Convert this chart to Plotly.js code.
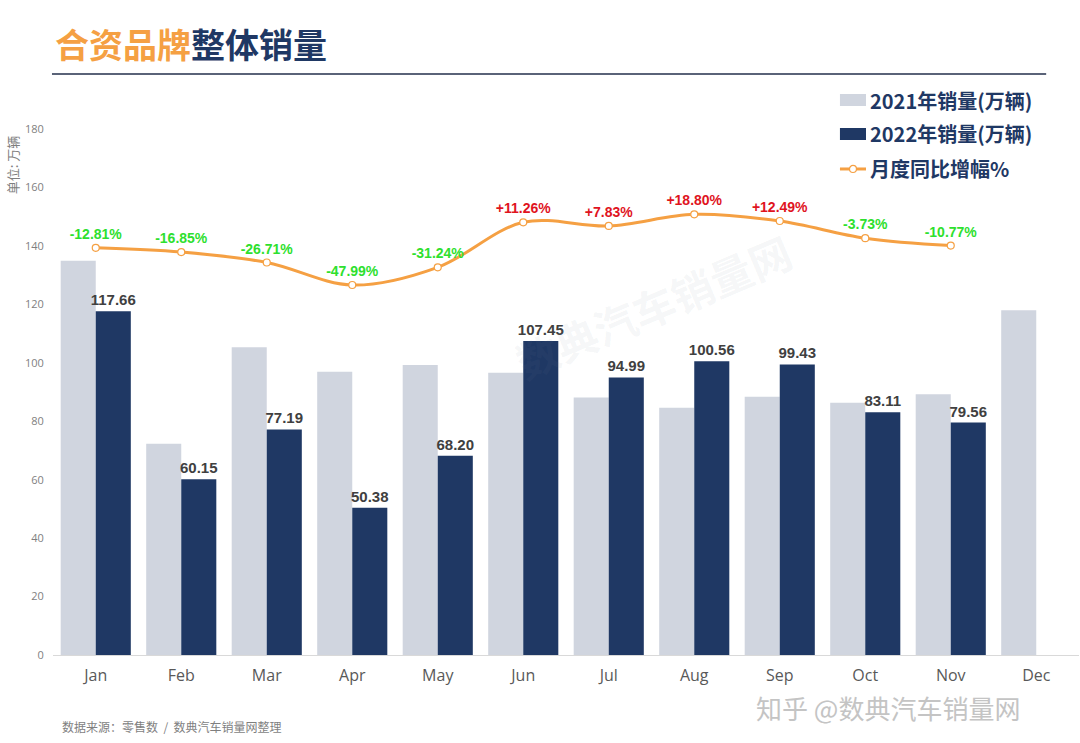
<!DOCTYPE html>
<html>
<head>
<meta charset="utf-8">
<script src="https://cdn.plot.ly/plotly-3.0.1.min.js"></script>
<style>html,body{margin:0;padding:0;background:#fff;}#chart{width:1080px;height:743px;}</style>
</head>
<body>
<div id="chart"></div>
<script>
const months = ["Jan","Feb","Mar","Apr","May","Jun","Jul","Aug","Sep","Oct","Nov","Dec"];
const sales2021 = [134.9, 72.3, 105.3, 96.9, 99.2, 96.6, 88.1, 84.6, 88.4, 86.3, 89.2, 118.0];
const sales2022 = [117.66, 60.15, 77.19, 50.38, 68.20, 107.45, 94.99, 100.56, 99.43, 83.11, 79.56];
const yoyPct = [-12.81, -16.85, -26.71, -47.99, -31.24, 11.26, 7.83, 18.80, 12.49, -3.73, -10.77];
const yoyLabels = ["-12.81%","-16.85%","-26.71%","-47.99%","-31.24%","+11.26%","+7.83%","+18.80%","+12.49%","-3.73%","-10.77%"];
const seriesNames = ["2021年销量(万辆)", "2022年销量(万辆)", "月度同比增幅%"];

const NAVY = "#1F3864";
const GREY = "#D0D5DF";
const ORANGE = "#F5A043";
const cjk = "Noto Sans CJK SC, sans-serif";

const traces = [
  {
    type: "bar", name: seriesNames[0], x: months, y: sales2021,
    marker: {color: GREY}, hoverinfo: "skip", showlegend: false
  },
  {
    type: "bar", name: seriesNames[1], x: months.slice(0, sales2022.length), y: sales2022,
    marker: {color: NAVY}, hoverinfo: "skip", showlegend: false,
    text: sales2022.map(v => v.toFixed(2)), textposition: "outside", constraintext: "none",
    textfont: {family: "Liberation Sans, Arial, sans-serif", size: 15, color: "#404040", weight: "bold"},
    cliponaxis: false
  },
  {
    type: "scatter", name: seriesNames[2], x: months.slice(0, yoyPct.length), y: yoyPct,
    yaxis: "y2", mode: "lines+markers+text", hoverinfo: "skip", showlegend: false,
    line: {color: ORANGE, width: 3, shape: "spline", smoothing: 1},
    marker: {size: 7, color: "#fff", line: {color: ORANGE, width: 1.2}},
    text: yoyLabels, textposition: "top center",
    textfont: {family: "Liberation Sans, Arial, sans-serif", size: 14, weight: "bold",
      color: yoyPct.map(v => v >= 0 ? "#E0141E" : "#2EE02E")},
    cliponaxis: false
  }
];

// custom legend (paper coordinates)
const legY = [1.0551, 0.9905, 0.924];
const legendShapes = [
  {type: "rect", xref: "paper", yref: "paper", x0: 0.767, x1: 0.7924, y0: legY[0] - 0.0114, y1: legY[0] + 0.0114,
   fillcolor: GREY, line: {width: 0}},
  {type: "rect", xref: "paper", yref: "paper", x0: 0.767, x1: 0.7924, y0: legY[1] - 0.0114, y1: legY[1] + 0.0114,
   fillcolor: NAVY, line: {width: 0}},
  {type: "line", xref: "paper", yref: "paper", x0: 0.767, x1: 0.7924, y0: legY[2], y1: legY[2],
   line: {color: ORANGE, width: 3}},
  {type: "circle", xref: "paper", yref: "paper", x0: 0.7763, x1: 0.7831, y0: legY[2] - 0.0067, y1: legY[2] + 0.0067,
   fillcolor: "#fff", line: {color: ORANGE, width: 1.2}}
];
const legendAnns = seriesNames.map((n, i) => ({
  text: "<b>" + n + "</b>", xref: "paper", yref: "paper", x: 0.7943, y: legY[i],
  xanchor: "left", yanchor: "middle", showarrow: false,
  font: {family: cjk, size: 20, color: NAVY}
}));

const layout = {
  width: 1080, height: 743,
  paper_bgcolor: "#fff", plot_bgcolor: "#fff",
  margin: {l: 53, r: 1, t: 129, b: 88},
  barmode: "group", bargap: 0.18, bargroupgap: 0,
  showlegend: false,
  title: {
    text: "<b><span style=\"color:#F5A043\">合资品牌</span><span style=\"color:#1F3864\">整体销量</span></b>",
    xref: "container", yref: "container", x: 0.051, xanchor: "left",
    y: 1 - 46/743, yanchor: "middle",
    font: {family: cjk, size: 34}
  },
  xaxis: {
    type: "category", range: [-0.5, 11.5], autorange: false,
    showgrid: false, zeroline: false, automargin: false,
    showline: true, linecolor: "#D9D9D9", linewidth: 1,
    ticks: "outside", ticklen: 6, tickcolor: "rgba(0,0,0,0)",
    tickfont: {family: "Open Sans, sans-serif", size: 16, color: "#595959"},
    fixedrange: true
  },
  yaxis: {
    range: [0, 180], dtick: 20, showgrid: false, zeroline: false, showline: false, automargin: false,
    ticks: "outside", ticklen: 6, tickcolor: "rgba(0,0,0,0)",
    tickfont: {family: "Open Sans, sans-serif", size: 11, color: "#7F7F7F"},
    fixedrange: true
  },
  yaxis2: {
    overlaying: "y", range: [-397.5, 99.4], visible: false, fixedrange: true, automargin: false
  },
  shapes: [
    {type: "line", xref: "paper", yref: "paper", x0: -0.001, x1: 0.968, y0: 1.1046, y1: 1.1046,
     line: {color: "#5A6378", width: 2}}
  ].concat(legendShapes),
  annotations: [
    {text: "单位: 万辆", xref: "paper", yref: "paper", x: -0.04, y: 0.933, textangle: -90,
     xanchor: "center", yanchor: "middle",
     showarrow: false, font: {family: cjk, size: 13, color: "#7F7F7F"}},
    {text: "数据来源：零售数  /  数典汽车销量网整理", xref: "paper", yref: "paper", x: 0.0068, y: -0.135,
     xanchor: "left", yanchor: "middle", showarrow: false, font: {family: cjk, size: 12, color: "#7F7F7F"}},
    {text: "知乎 @数典汽车销量网", xref: "paper", yref: "paper", x: 0.814, y: -0.1,
     xanchor: "center", yanchor: "middle", showarrow: false,
     font: {family: cjk, size: 26, color: "#C4C4C4"}},
    {text: "<b>数典汽车销量网</b>", xref: "paper", yref: "paper", x: 0.585, y: 0.665,
     textangle: -23, showarrow: false,
     font: {family: cjk, size: 42, color: "rgba(120,130,150,0.08)"}}
  ].concat(legendAnns)
};

Plotly.newPlot("chart", traces, layout, {displayModeBar: false, staticPlot: true});
</script>
</body>
</html>
